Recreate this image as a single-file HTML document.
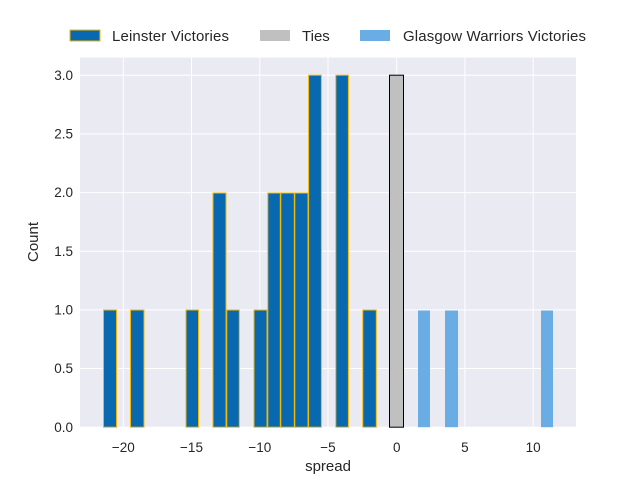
<!DOCTYPE html>
<html><head><style>body{margin:0;background:#fff}</style></head><body>
<svg width="640" height="480" xmlns="http://www.w3.org/2000/svg" font-family="Liberation Sans, DejaVu Sans, sans-serif" fill="#262626">
<rect x="80" y="57.6" width="496" height="369.6" fill="#eaeaf2"/>
<g stroke="#fff" stroke-width="1">
<line x1="123.3" y1="57.6" x2="123.3" y2="427.2"/><line x1="191.5" y1="57.6" x2="191.5" y2="427.2"/><line x1="259.8" y1="57.6" x2="259.8" y2="427.2"/><line x1="328" y1="57.6" x2="328" y2="427.2"/><line x1="396.7" y1="57.6" x2="396.7" y2="427.2"/><line x1="464.9" y1="57.6" x2="464.9" y2="427.2"/><line x1="533.2" y1="57.6" x2="533.2" y2="427.2"/>
<line x1="80" y1="427.2" x2="576" y2="427.2"/><line x1="80" y1="368.5" x2="576" y2="368.5"/><line x1="80" y1="309.9" x2="576" y2="309.9"/><line x1="80" y1="251.2" x2="576" y2="251.2"/><line x1="80" y1="192.6" x2="576" y2="192.6"/><line x1="80" y1="133.9" x2="576" y2="133.9"/><line x1="80" y1="75.2" x2="576" y2="75.2"/>
</g>
<g fill="#0868b0" stroke="#f5b800" stroke-width="1">
<rect x="103.5" y="310" width="13" height="117.2"/>
<rect x="130.5" y="310" width="13.5" height="117.2"/>
<rect x="186" y="310" width="12.5" height="117.2"/>
<rect x="213" y="193" width="13" height="234.2"/>
<rect x="226.8" y="310" width="12.5" height="117.2"/>
<rect x="254" y="310" width="13" height="117.2"/>
<rect x="267.8" y="193" width="12.5" height="234.2"/>
<rect x="280.8" y="193" width="13.5" height="234.2"/>
<rect x="294.8" y="193" width="13.2" height="234.2"/>
<rect x="308.6" y="75.2" width="12.8" height="352"/>
<rect x="335.8" y="75.2" width="12.6" height="352"/>
<rect x="362.8" y="310" width="13.5" height="117.2"/>
</g>
<rect x="389.5" y="75.2" width="14" height="352" fill="#c0c0c0" stroke="#000" stroke-width="1"/>
<g fill="#6aade4">
<rect x="418" y="310.5" width="12" height="116.7"/>
<rect x="445" y="310.5" width="13" height="116.7"/>
<rect x="541" y="310.5" width="12" height="116.7"/>
</g>
<g font-size="13.5" text-anchor="middle">
<text x="123.3" y="452">−20</text><text x="191.5" y="452">−15</text><text x="259.8" y="452">−10</text><text x="328" y="452">−5</text><text x="396.7" y="452">0</text><text x="464.9" y="452">5</text><text x="533.2" y="452">10</text>
<text x="328" y="471" font-size="15">spread</text>
</g>
<g font-size="13.5" text-anchor="end">
<text x="73" y="432">0.0</text><text x="73" y="373">0.5</text><text x="73" y="314.5">1.0</text><text x="73" y="256">1.5</text><text x="73" y="197">2.0</text><text x="73" y="138.5">2.5</text><text x="73" y="80">3.0</text>
</g>
<text transform="translate(38,242) rotate(-90)" font-size="15" text-anchor="middle">Count</text>
<rect x="70" y="30" width="30" height="11" fill="#0868b0" stroke="#f5b800"/>
<text x="112" y="41" font-size="15" textLength="117">Leinster Victories</text>
<rect x="260" y="30" width="30" height="11" fill="#c0c0c0"/>
<text x="302" y="41" font-size="15">Ties</text>
<rect x="360" y="30" width="30" height="11" fill="#6aade4"/>
<text x="403" y="41" font-size="15" textLength="183">Glasgow Warriors Victories</text>
</svg>
</body></html>
